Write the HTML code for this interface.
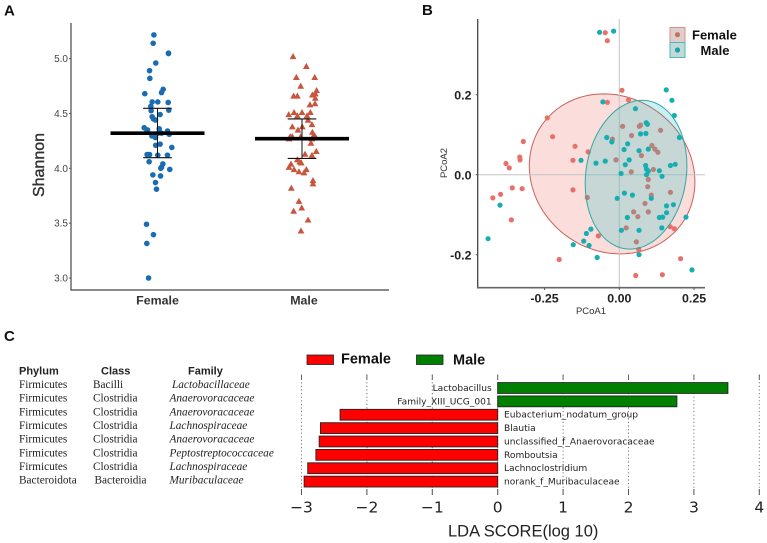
<!DOCTYPE html>
<html lang="en">
<head>
<meta charset="utf-8">
<title>Shannon, PCoA and LDA panels</title>
<style>
html,body{margin:0;padding:0;background:#fff;width:767px;height:543px;overflow:hidden}
svg{display:block}
text{font-family:"Liberation Sans",sans-serif}
.serif{font-family:"Liberation Serif",serif;font-size:11.3px;fill:#222}
.hd{font-size:11px;font-weight:bold;fill:#222}
.dj{font-family:"DejaVu Sans",sans-serif}
</style>
</head>
<body>
<svg id="chart" width="767" height="543" viewBox="0 0 767 543" xmlns="http://www.w3.org/2000/svg">
  <text x="4" y="15.5" font-size="15" font-weight="bold" fill="#111">A</text>
  <text x="422" y="15" font-size="15" font-weight="bold" fill="#111">B</text>
  <text x="4" y="341" font-size="15" font-weight="bold" fill="#111">C</text>

  <g id="panelA">
    <text transform="translate(44,165) rotate(-90)" text-anchor="middle" font-size="16" fill="#333" stroke="#333" stroke-width=".4">Shannon</text>
  </g>

  <g id="panelB">
    <text x="591" y="314" text-anchor="middle" font-size="9.5" fill="#333">PCoA1</text>
    <text transform="translate(447,163) rotate(-90)" text-anchor="middle" font-size="9.5" fill="#333">PCoA2</text>
    <g>
      <rect x="670" y="27.5" width="15" height="15" fill="#dccfcd" stroke="#e58a84"/>
      <rect x="670" y="42.5" width="15" height="15" fill="#c5d8d8" stroke="#45bcbc"/>
      <circle cx="677.5" cy="34.7" r="2.6" fill="#c9705f"/>
      <circle cx="677.5" cy="50" r="2.6" fill="#16a5ab"/>
      <text x="692" y="39.5" font-size="13" font-weight="bold" fill="#111">Female</text>
      <text x="715" y="55" text-anchor="middle" font-size="13" font-weight="bold" fill="#111">Male</text>
    </g>
  </g>

  <g id="taxTable">
    <text class="hd" x="19" y="374.5">Phylum</text>
    <text class="hd" x="101" y="374.5">Class</text>
    <text class="hd" x="188" y="374.5">Family</text>
    <g class="serif">
      <text class="serif" x="19" y="388">Firmicutes</text>
      <text class="serif" x="19" y="401.7">Firmicutes</text>
      <text class="serif" x="19" y="415.3">Firmicutes</text>
      <text class="serif" x="19" y="429">Firmicutes</text>
      <text class="serif" x="19" y="442.7">Firmicutes</text>
      <text class="serif" x="19" y="456.3">Firmicutes</text>
      <text class="serif" x="19" y="470">Firmicutes</text>
      <text class="serif" x="19" y="483.7">Bacteroidota</text>
    </g>
    <g class="serif">
      <text class="serif" x="93" y="388">Bacilli</text>
      <text class="serif" x="93" y="401.7">Clostridia</text>
      <text class="serif" x="93" y="415.3">Clostridia</text>
      <text class="serif" x="93" y="429">Clostridia</text>
      <text class="serif" x="93" y="442.7">Clostridia</text>
      <text class="serif" x="93" y="456.3">Clostridia</text>
      <text class="serif" x="93" y="470">Clostridia</text>
      <text class="serif" x="94.5" y="483.7">Bacteroidia</text>
    </g>
    <g class="serif" font-style="italic">
      <text class="serif" x="172" y="388">Lactobacillaceae</text>
      <text class="serif" x="169.5" y="401.7">Anaerovoracaceae</text>
      <text class="serif" x="169.5" y="415.3">Anaerovoracaceae</text>
      <text class="serif" x="169.5" y="429">Lachnospiraceae</text>
      <text class="serif" x="169.5" y="442.7">Anaerovoracaceae</text>
      <text class="serif" x="169.5" y="456.3">Peptostreptococcaceae</text>
      <text class="serif" x="169.5" y="470">Lachnospiraceae</text>
      <text class="serif" x="169.5" y="483.7">Muribaculaceae</text>
    </g>
  </g>

  <g id="panelC">
    <g>
      <rect x="307" y="355" width="26.5" height="9.5" fill="#f00" stroke="#222" stroke-width=".8"/>
      <text x="341" y="363.5" font-size="14.5" font-weight="bold" fill="#111">Female</text>
      <rect x="416.5" y="355" width="26.5" height="9.5" fill="#008000" stroke="#222" stroke-width=".8"/>
      <text x="453" y="364.5" font-size="14.5" font-weight="bold" fill="#111">Male</text>
    </g>
    <text x="448" y="536.5" font-size="16.5" fill="#222">LDA SCORE(log 10)</text>
  </g>
</svg>
<script>
// Panel A data
const groupNames = ['Female', 'Male'];
const shannonTicks = [3.0, 3.5, 4.0, 4.5, 5.0];
const femaleShannon = [5.216,5.14,5.046,5.05,4.96,4.89,4.82,4.72,4.69,4.68,4.605,4.605,4.60,4.565,4.53,4.525,4.49,4.47,4.45,4.44,4.37,4.35,4.36,4.34,4.32,4.33,4.32,4.31,4.295,4.28,4.22,4.21,4.19,4.125,4.125,4.12,4.12,4.06,4.04,4.01,4.0,3.99,3.94,3.93,3.87,3.81,3.49,3.395,3.315,3.0];
const femaleJitter = [-.025,-.03,.076,.076,-.012,-.055,-.053,.039,.028,-.088,-.037,.002,.074,-.046,.078,-.044,.018,-.037,-.028,-.014,-.092,-.069,.012,.069,.005,-.074,.028,.081,-.039,-.014,.018,-.012,.099,-.072,-.055,.069,.002,-.058,.037,.028,.023,.085,-.032,.021,-.014,-.007,-.076,-.028,-.074,-.062];
const maleShannon = [5.02,4.93,4.83,4.83,4.75,4.71,4.66,4.66,4.67,4.68,4.64,4.58,4.59,4.49,4.51,4.48,4.51,4.48,4.51,4.44,4.40,4.38,4.38,4.35,4.33,4.30,4.29,4.29,4.27,4.29,4.29,4.27,4.23,4.155,4.13,4.12,4.08,4.06,4.05,4.04,4.01,3.99,3.99,3.97,3.96,3.89,3.86,3.82,3.70,3.64,3.61,3.53,3.43];
const maleJitter = [-.062,.03,-.039,.088,-.009,.101,-.058,-.032,.072,.092,.092,.055,.09,-.092,-.055,-.032,0,.035,.058,.042,.069,-.067,.002,-.028,.072,.081,-.081,-.067,-.09,-.009,.092,.067,.062,.099,.021,.069,-.032,-.016,-.005,-.076,-.09,-.055,.03,-.021,.014,.076,.076,-.074,-.021,-.002,-.058,.042,-.007];
const groupMeans = [4.32, 4.27];
const groupUpper = [4.547, 4.45];
const groupLower = [4.097, 4.09];

// Panel B data
const pcoaXTicks = [-0.25, 0, 0.25];
const pcoaYTicks = [-0.2, 0, 0.2];
const femalePC1 = [-.241,-.223,-.321,-.148,-.104,-.333,-.155,-.332,-.379,-.368,-.358,-.325,-.397,-.423,-.361,-.155,-.107,-.201,-.047,-.040,.009,-.040,.031,.011,.067,.071,.041,.138,-.023,.109,.119,.129,.074,-.011,.040,.114,.097,.095,.171,.107,.086,.048,.097,.062,.023,.170,.184,-.070,.057,.065,.205,.144,.055];
const femalePC2 = [.142,.095,.083,.071,.057,.044,.036,.037,.028,.017,-.033,-.035,-.049,-.058,-.113,-.038,-.057,-.212,.355,.335,.211,.181,.187,.121,.121,.124,.098,.111,.089,.073,.064,.056,.048,.037,.007,.013,-.012,-.030,-.044,-.051,-.072,-.093,-.093,-.105,-.133,-.130,-.135,-.153,-.168,-.187,-.210,-.250,-.252];
const malePC1 = [-.066,-.019,.157,.176,-.055,.054,.184,.090,.094,.071,.089,.201,-.042,-.025,.028,.016,.066,.097,-.047,.033,.020,-.128,-.078,.088,.091,.097,.091,.006,.134,.143,.171,.187,.017,.044,-.007,.107,.158,.181,.158,.134,.145,.027,.223,.142,.007,.066,-.095,.066,-.074,.243,-.399,-.439,-.110,-.119,-.154,-.101];
const malePC2 = [.356,.359,.212,.186,.182,.165,.148,.130,.126,.102,.103,.093,.093,.082,.077,.063,.060,.064,.034,.037,.025,.036,.029,.023,.014,.009,0,.003,.010,-.004,.023,.026,-.046,-.051,-.059,-.059,-.078,-.075,-.095,-.107,-.106,-.107,-.106,-.133,-.139,-.139,-.136,-.200,-.207,-.238,-.076,-.160,-.147,-.166,-.175,-.177];
const femaleEllipse = [-.024, 0.002, .277, .200, .10];
const maleEllipse = [.056, 0, .170, .186, -.12];

// Panel C data
const taxa = ['Lactobacillus','Family_XIII_UCG_001','Eubacterium_nodatum_group','Blautia','unclassified_f_Anaerovoracaceae','Romboutsia','Lachnoclostridium','norank_f_Muribaculaceae'];
const ldaScores = [3.52, 2.74, -2.41, -2.71, -2.73, -2.78, -2.905, -2.96];
const ldaTicks = [-3, -2, -1, 0, 1, 2, 3, 4];

const NS = 'http://www.w3.org/2000/svg';
function mk(parent, tag, attrs, txt) {
  const el = document.createElementNS(NS, tag);
  for (const k in attrs) el.setAttribute(k, attrs[k]);
  if (txt !== undefined) el.textContent = txt;
  parent.appendChild(el);
  return el;
}
let el;

// ---------- Panel A ----------
const A = document.getElementById('panelA');
const ay = v => 278 - (v - 3) * 109.7;
const ax = p => 157.5 + p * 144.5;
el = mk(A, 'line', {x1:71, y1:23, x2:71, y2:290.5, stroke:'#555', 'stroke-width':1.3});


el = mk(A, 'line', {x1:70.5, y1:290, x2:389, y2:290, stroke:'#444', 'stroke-width':1.3});


shannonTicks.forEach(t => {
  el = mk(A, 'line', {x1:69, x2:71, y1:ay(t), y2:ay(t), stroke:'#555', 'stroke-width':1});
  
  
  el = mk(A, 'text', {x:68, y:ay(t)+3.5, 'text-anchor':'end', 'font-size':10, fill:'#444'}, t.toFixed(1));
  
  
});
groupNames.forEach((g, i) => {
  el = mk(A, 'text', {x:ax(i)+(i?2:0), y:304.5, 'text-anchor':'middle', 'font-size':12.4, 'font-weight':'bold', fill:'#333'}, g);
  
  
});
femaleShannon.forEach((v, i) => {
  el = mk(A, 'circle', {cx:ax(0 + femaleJitter[i]), cy:ay(v), r:2.8, fill:'#1a6cb2'});
  
  
});
maleShannon.forEach((v, i) => {
  const x = ax(1 + maleJitter[i]), y = ay(v);
  el = mk(A, 'polygon', {points:`${x},${y-3.4} ${x-3.4},${y+2.7} ${x+3.4},${y+2.7}`, fill:'#c8553d'});
  
  
});
groupNames.forEach((g, i) => {
  const c = ax(i);
  el = mk(A, 'line', {x1:c-47, x2:c+47, y1:ay(groupMeans[i]), y2:ay(groupMeans[i]), stroke:'#000', 'stroke-width':3.6});
  
  
  el = mk(A, 'line', {x1:c, x2:c, y1:ay(groupUpper[i]), y2:ay(groupLower[i]), stroke:'#111', 'stroke-width':1});
  
  
  [groupUpper[i], groupLower[i]].forEach(v => {
    el = mk(A, 'line', {x1:c-14.3, x2:c+14.3, y1:ay(v), y2:ay(v), stroke:'#111', 'stroke-width':1.1});
    
    
  });
});

// ---------- Panel B ----------
const B = document.getElementById('panelB');
const bx = v => 619.3 + v * 299;
const by = v => 174.7 - v * 400;
function ellipsePts(e) {
  const pts = [];
  for (let k = 0; k < 120; k++) {
    const t = k / 120 * Math.PI * 2;
    pts.push(bx(e[0] + e[2] * Math.cos(t)).toFixed(1) + ',' + by(e[1] - e[3] * Math.sin(t + e[4])).toFixed(1));
  }
  return pts.join(' ');
}
const bFirst = B.firstElementChild;
function bMk(tag, attrs, txt) {
  const n = mk(B, tag, attrs, txt);
  B.insertBefore(n, bFirst);
  return n;
}
el = bMk('polygon', {points:ellipsePts(femaleEllipse), fill:'#fbdedb', stroke:'#c9605a', 'stroke-width':1});


el = bMk('line', {x1:bx(0), x2:bx(0), y1:19, y2:287, stroke:'#c4c4c4', 'stroke-width':1});


el = bMk('line', {x1:478, x2:705, y1:by(0), y2:by(0), stroke:'#c4c4c4', 'stroke-width':1});


femalePC1.forEach((v, i) => {
  el = bMk('circle', {cx:bx(v), cy:by(femalePC2[i]), r:2.6, fill:'#e8706a'});
  
  
});
el = bMk('polygon', {points:ellipsePts(maleEllipse), fill:'rgba(10,190,190,.22)', stroke:'#2fa8a4', 'stroke-width':1});


malePC1.forEach((v, i) => {
  el = bMk('circle', {cx:bx(v), cy:by(malePC2[i]), r:2.6, fill:'#17aeb2'});
  
  
});
el = bMk('line', {x1:477.7, x2:477.7, y1:19, y2:288, stroke:'#444', 'stroke-width':1.3});


el = bMk('line', {x1:477, x2:705, y1:287.7, y2:287.7, stroke:'#666', 'stroke-width':1.6});


pcoaXTicks.forEach(t => {
  el = bMk('line', {x1:bx(t), x2:bx(t), y1:288, y2:290, stroke:'#555', 'stroke-width':1});
  
  
  el = bMk('text', {x:bx(t), y:302.5, 'text-anchor':'middle', 'font-size':12.4, 'font-weight':'bold', fill:'#222'}, t.toFixed(2));
  
  
});
pcoaYTicks.forEach(t => {
  el = bMk('line', {x1:475.7, x2:477.7, y1:by(t), y2:by(t), stroke:'#555', 'stroke-width':1});
  
  
  el = bMk('text', {x:471.5, y:by(t)+5, 'text-anchor':'end', 'font-size':12.4, 'font-weight':'bold', fill:'#222'}, t.toFixed(1));
  
  
});

// ---------- Panel C ----------
const C = document.getElementById('panelC');
const cx = v => 497.7 + v * 65.4;
const cy = i => 388 + i * 13.37;
ldaTicks.forEach(t => {
  el = mk(C, 'line', {x1:cx(t), x2:cx(t), y1:375, y2:495, stroke:'#777', 'stroke-width':1, 'stroke-dasharray':'1.2 2.4'});
  
  
  el = mk(C, 'line', {x1:cx(t), x2:cx(t), y1:374.5, y2:380, stroke:'#666', 'stroke-width':1});
  
  
  el = mk(C, 'line', {x1:cx(t), x2:cx(t), y1:489, y2:495, stroke:'#555', 'stroke-width':1});
  
  
  el = mk(C, 'text', {x:cx(t), y:512.5, 'text-anchor':'middle', 'font-size':15.5, fill:'#222', class:'dj'}, String(t).replace('-', '\u2212'));
  
  
});
ldaScores.forEach((v, i) => {
  el = mk(C, 'rect', {x:Math.min(cx(0), cx(v)), y:cy(i)-5.4, width:Math.abs(cx(v)-cx(0)), height:10.8, fill:v > 0 ? '#008000' : '#ff0000', stroke:'#222', 'stroke-width':.9});
  
  
  el = mk(C, 'text', {x:v > 0 ? 491.7 : 504, y:cy(i)+3, 'text-anchor':v > 0 ? 'end' : 'start', 'font-size':9.08, fill:'#222', class:'dj'}, taxa[i]);
  
  
});
</script>
</body>
</html>
